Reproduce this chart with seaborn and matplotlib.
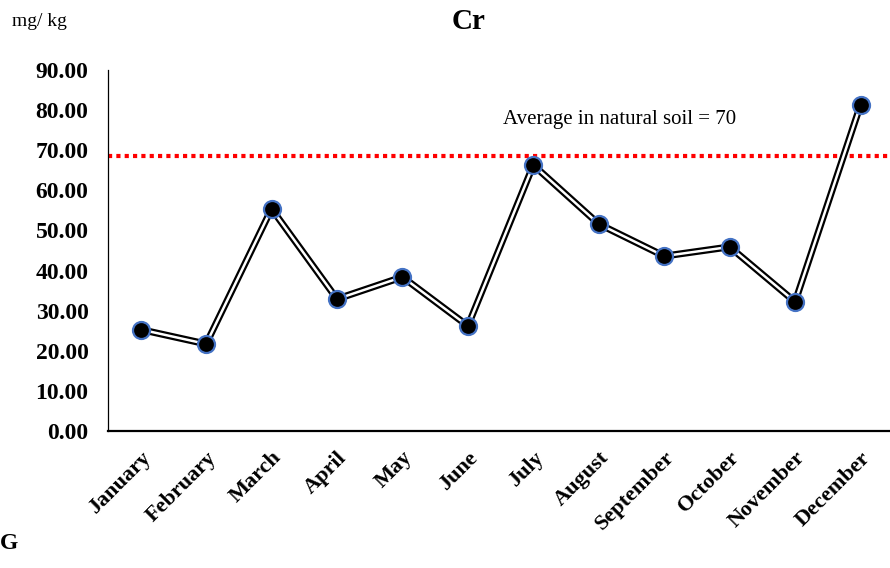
import matplotlib
matplotlib.use('Agg')
import matplotlib.pyplot as plt
import pandas as pd
import seaborn as sns

# Monthly Cr concentration (mg/kg)
months = ['January', 'February', 'March', 'April', 'May', 'June', 'July',
          'August', 'September', 'October', 'November', 'December']
cr_values = [25.3, 21.7, 55.4, 32.9, 38.4, 26.2, 66.3, 51.6, 43.6, 45.9, 32.2, 81.3]
natural_avg = 68.6
yticks = [0, 10, 20, 30, 40, 50, 60, 70, 80, 90]

df = pd.DataFrame({'month': months, 'cr': cr_values, 'pos': range(len(months))})

sns.set_style('white')
plt.rcParams['font.family'] = ['Liberation Serif', 'DejaVu Serif']
plt.rcParams['text.color'] = 'black'
plt.rcParams['xtick.color'] = 'black'
plt.rcParams['ytick.color'] = 'black'

fig = plt.figure(figsize=(8.9, 5.68), dpi=100)
ax = fig.add_axes([0.1213, 0.2412, 0.8787, 0.6356])

# double line: thick black with thin white inside
sns.lineplot(data=df, x='pos', y='cr', color='black', linewidth=5.0, ax=ax, zorder=2)
sns.lineplot(data=df, x='pos', y='cr', color='white', linewidth=1.8, ax=ax, zorder=3)
sns.scatterplot(data=df, x='pos', y='cr', color='black', edgecolor='#4472C4',
                linewidth=1.6, s=150, ax=ax, zorder=4)

ax.axhline(natural_avg, color='#FF0000', linestyle=(0, (1, 1)), linewidth=3, zorder=1)
ax.text(7.31, 77.6, 'Average in natural soil = 70', fontsize=15,
        ha='center', va='center')

ax.set_xlim(-0.5, 11.45)
ax.set_ylim(0, 90)
ax.set_yticks(yticks)
ax.set_yticklabels([f'{v:.2f}' for v in yticks], fontsize=17, fontweight='bold')
ax.set_xticks(df['pos'])
ax.set_xticklabels(months, rotation=45, ha='right', rotation_mode='anchor',
                   fontsize=16, fontweight='bold')
ax.tick_params(axis='y', length=0, pad=14)
ax.tick_params(axis='x', length=0, pad=12)
ax.set_xlabel('')
ax.set_ylabel('')

for side in ['top', 'right']:
    ax.spines[side].set_visible(False)
ax.spines['left'].set_color('black')
ax.spines['left'].set_linewidth(0.9)
ax.spines['bottom'].set_color('black')
ax.spines['bottom'].set_linewidth(1.6)

fig.text(0.527, 0.962, 'Cr', fontsize=21, fontweight='bold', ha='center', va='center')
fig.text(0.013, 0.963, 'mg/ kg', fontsize=14, ha='left', va='center')
fig.text(0.0, 0.044, 'G', fontsize=17, fontweight='bold', ha='left', va='center')

fig.savefig('out.png', dpi=100)
